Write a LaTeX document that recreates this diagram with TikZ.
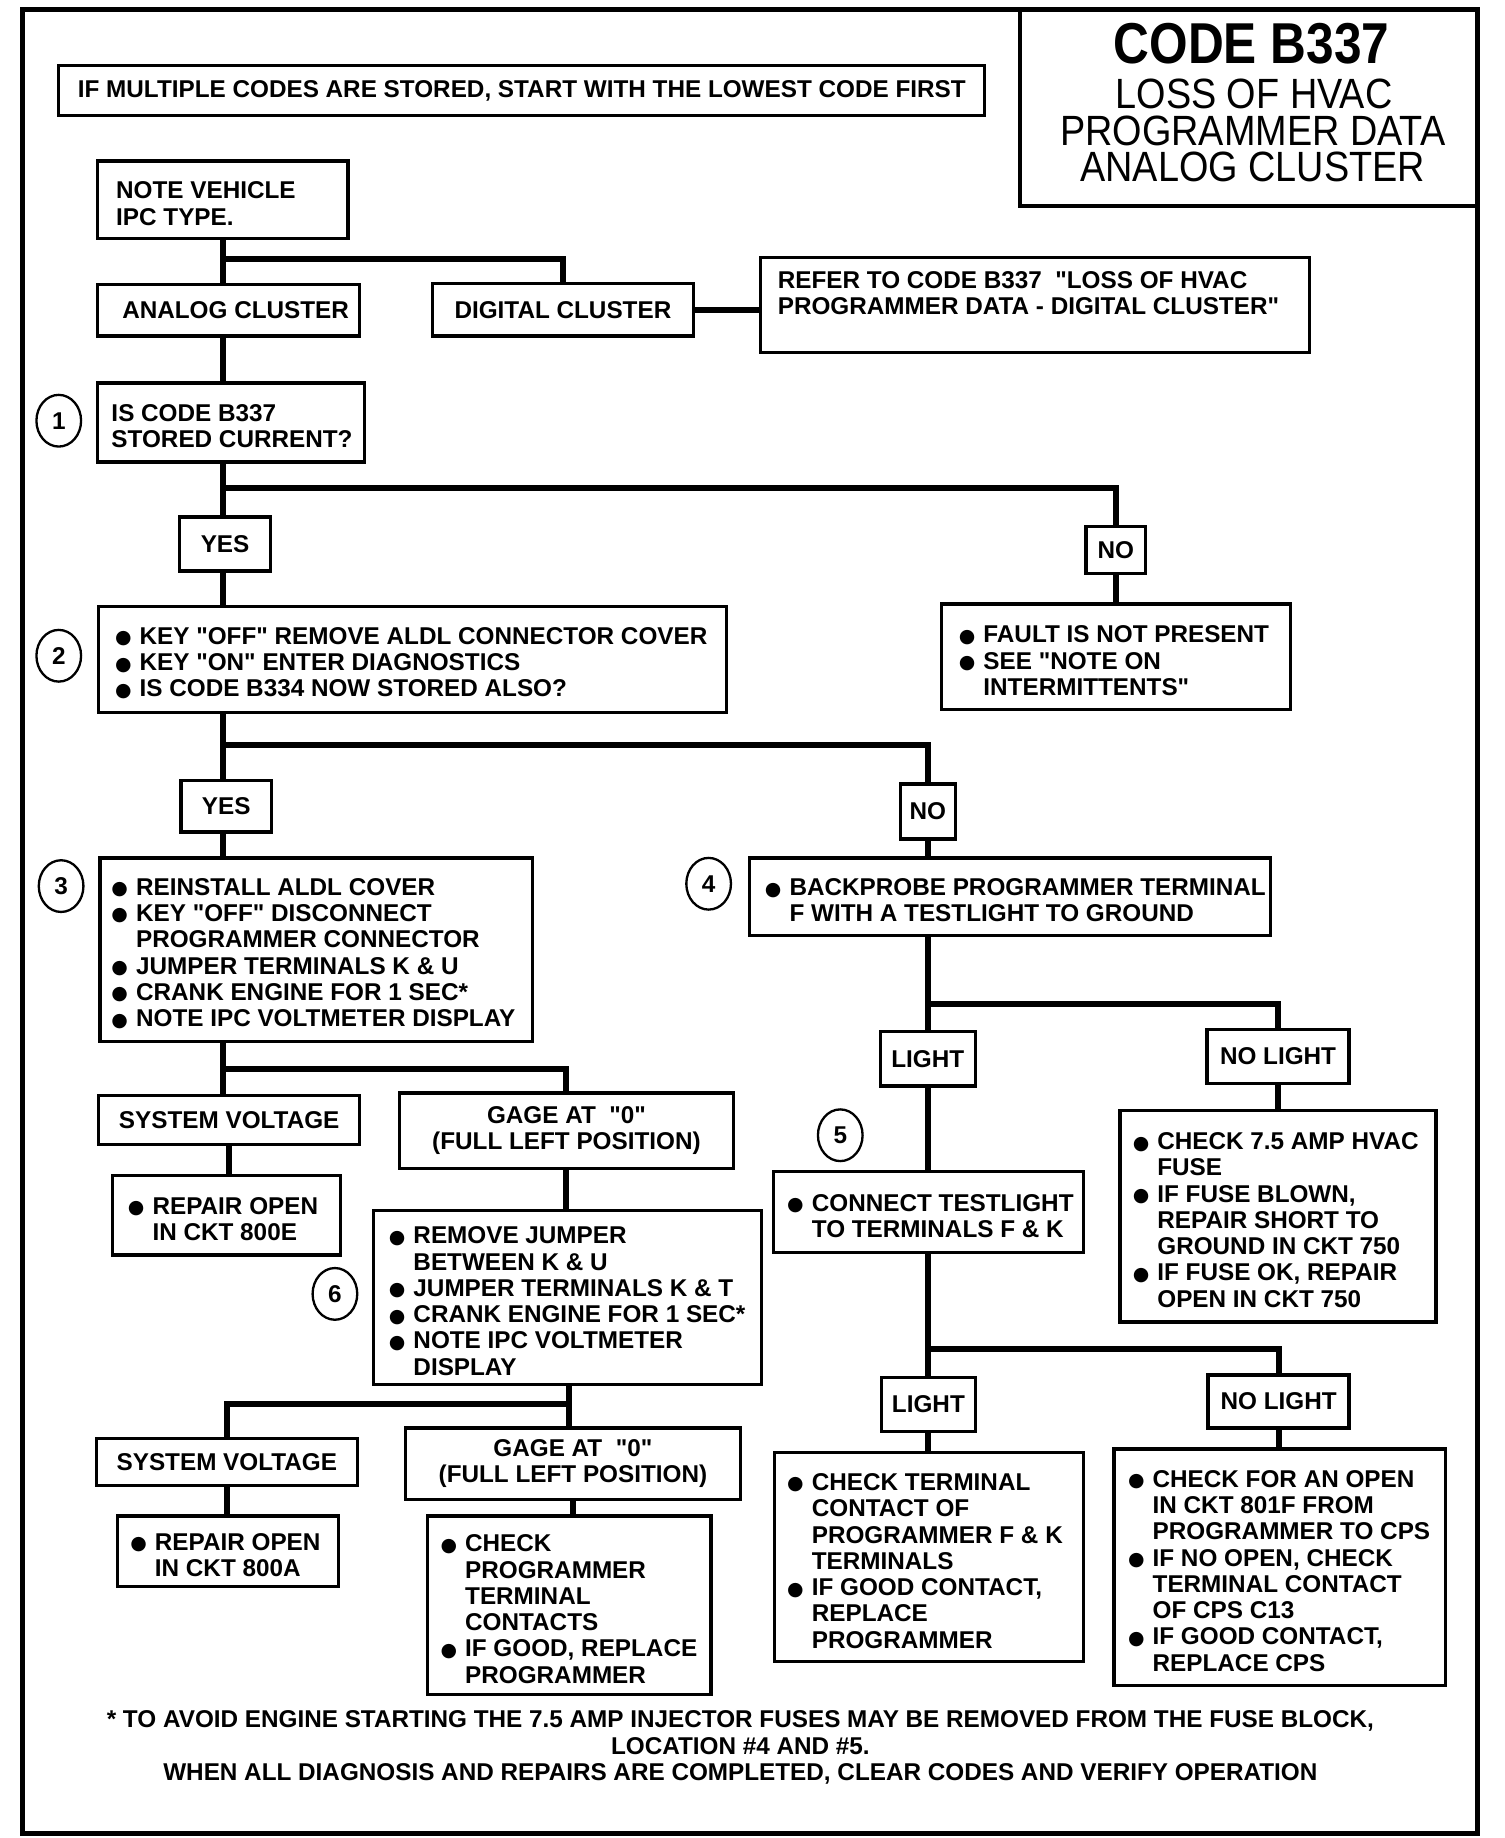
\documentclass[tikz,border=0pt]{standalone}
\usepackage{fontspec}
\usepackage{graphicx}
\setmainfont{Liberation Sans}
\newfontfamily\lib{Liberation Sans}
\newfontfamily\symf{DejaVu Sans}
\usetikzlibrary{calc,shapes.geometric}
\newcommand\bodyf{\lib\fontsize{14.7}{15.9}\selectfont\bfseries}
\newcommand\bul{\makebox[14.9pt][l]{\raisebox{0.3pt}{\scalebox{0.78}{\symf ●}}}}
\newcommand\ind{\hspace*{14.9pt}}
\newcommand\mkbox[6]{\node[box,#6,minimum width={(#4-#2)*0.25mm},minimum height={(#5-#3)*0.25mm}] (#1) at ({(#2+#4)/2},{(#3+#5)/2})}
\tikzset{
  box/.style={draw, line width=2pt, inner sep=0pt, align=center, font=\bodyf},
  conn/.style={line width=3.6pt, line join=miter},
  txt/.style={inner sep=0pt, align=left, font=\bodyf, anchor=west, yshift=-0.8mm},
  ttl/.style={inner sep=0pt, font=\lib\fontsize{21}{22}\selectfont},
  num/.style={ellipse, draw, line width=1.4pt, minimum width=9.5mm, minimum height=11mm, inner sep=0pt, font=\bodyf},
}
\begin{document}
\begin{tikzpicture}[x=0.25mm,y=-0.25mm]
\useasboundingbox (0,0) rectangle (1280,1564);
% outer frame
\draw[line width=2.8pt] (19,8) rectangle (1257,1560);
% title
\mkbox{titlebox}{868}{8}{1257}{175}{line width=2.4pt}{};
\node[inner sep=0pt, font=\lib\fontsize{34.9}{36}\selectfont\bfseries] (t1) at (1065,37) {\scalebox{0.86}[1]{CODE B337}};
\node[ttl] (t2) at (1067,80) {\scalebox{1.09}[1.22]{LOSS OF HVAC}};
\node[ttl] (t3) at (1066,111) {\scalebox{1.09}[1.22]{PROGRAMMER DATA}};
\node[ttl] (t4) at (1066,142) {\scalebox{1.09}[1.22]{ANALOG CLUSTER}};

% boxes
\mkbox{multi}{50}{56}{838}{98}{}{IF MULTIPLE CODES ARE STORED, START WITH THE LOWEST CODE FIRST};
\mkbox{note}{83}{137}{296}{203}{}{};
\node[txt] (notet) at ([xshift=4.25mm]note.west) {NOTE VEHICLE\\IPC TYPE.};
\mkbox{analog}{83}{242}{306}{286}{}{\hspace*{3mm}ANALOG CLUSTER};
\mkbox{digital}{368}{241}{590}{286}{}{DIGITAL CLUSTER};
\mkbox{refer}{647}{219}{1114}{300}{}{};
\node[txt, anchor=north west] (refert) at ([shift={(4mm,-2.4mm)}]refer.north west) {REFER TO CODE B337 \ "LOSS OF HVAC\\PROGRAMMER DATA - DIGITAL CLUSTER"};
\mkbox{q1}{83}{326}{310}{393}{}{};
\node[txt] (q1t) at ([xshift=3.25mm]q1.west) {IS CODE B337\\STORED CURRENT?};
\mkbox{yes1}{153}{440}{230}{486}{}{YES};
\mkbox{no1}{924}{448}{975}{488}{}{NO};
\mkbox{s2}{84}{516}{618}{606}{}{};
\node[txt] (s2t) at ([xshift=3.75mm]s2.west) {\bul KEY "OFF" REMOVE ALDL CONNECTOR COVER\\\bul KEY "ON" ENTER DIAGNOSTICS\\\bul IS CODE B334 NOW STORED ALSO?};
\mkbox{fault}{801}{514}{1098}{604}{}{};
\node[txt] (faultt) at ([xshift=4mm]fault.west) {\bul FAULT IS NOT PRESENT\\\bul SEE "NOTE ON\\\ind INTERMITTENTS"};
\mkbox{yes2}{154}{664}{231}{708}{}{YES};
\mkbox{no2}{766}{667}{813}{714}{}{NO};
\mkbox{s3}{85}{730}{453}{886}{}{};
\node[txt] (s3t) at ([xshift=2.75mm]s3.west) {\bul REINSTALL ALDL COVER\\\bul KEY "OFF" DISCONNECT\\\ind PROGRAMMER CONNECTOR\\\bul JUMPER TERMINALS K \& U\\\bul CRANK ENGINE FOR 1 SEC*\\\bul NOTE IPC VOLTMETER DISPLAY};
\mkbox{s4}{638}{730}{1081}{796}{}{};
\node[txt] (s4t) at ([xshift=3.5mm]s4.west) {\bul BACKPROBE PROGRAMMER TERMINAL\\\ind F WITH A TESTLIGHT TO GROUND};
\mkbox{sv1}{84}{932}{306}{974}{}{SYSTEM VOLTAGE};
\mkbox{gage1}{340}{930}{624}{994}{}{GAGE AT \ "0"\\(FULL LEFT POSITION)};
\mkbox{rep1}{96}{1000}{290}{1068}{}{};
\node[txt] (rep1t) at ([xshift=3.5mm]rep1.west) {\bul REPAIR OPEN\\\ind IN CKT 800E};
\mkbox{s6}{318}{1030}{648}{1178}{}{};
\node[txt] (s6t) at ([xshift=3.5mm]s6.west) {\bul REMOVE JUMPER\\\ind BETWEEN K \& U\\\bul JUMPER TERMINALS K \& T\\\bul CRANK ENGINE FOR 1 SEC*\\\bul NOTE IPC VOLTMETER\\\ind DISPLAY};
\mkbox{sv2}{82}{1224}{304}{1264}{}{SYSTEM VOLTAGE};
\mkbox{gage2}{345}{1215}{630}{1276}{}{GAGE AT \ "0"\\(FULL LEFT POSITION)};
\mkbox{rep2}{100}{1290}{288}{1350}{}{};
\node[txt] (rep2t) at ([xshift=3mm]rep2.west) {\bul REPAIR OPEN\\\ind IN CKT 800A};
\mkbox{chk}{364}{1290}{605}{1442}{}{};
\node[txt] (chkt) at ([xshift=3mm]chk.west) {\bul CHECK\\\ind PROGRAMMER\\\ind TERMINAL\\\ind CONTACTS\\\bul IF GOOD, REPLACE\\\ind PROGRAMMER};
\mkbox{light1}{749}{878}{830}{924}{}{LIGHT};
\mkbox{nolight1}{1027}{876}{1148}{922}{}{NO LIGHT};
\mkbox{s5}{658}{997}{922}{1066}{}{};
\node[txt] (s5t) at ([xshift=3.25mm]s5.west) {\bul CONNECT TESTLIGHT\\\ind TO TERMINALS F \& K};
\mkbox{fuse}{953}{945}{1222}{1125}{}{};
\node[txt] (fuset) at ([xshift=3mm]fuse.west) {\bul CHECK 7.5 AMP HVAC\\\ind FUSE\\\bul IF FUSE BLOWN,\\\ind REPAIR SHORT TO\\\ind GROUND IN CKT 750\\\bul IF FUSE OK, REPAIR\\\ind OPEN IN CKT 750};
\mkbox{light2}{750}{1172}{830}{1218}{}{LIGHT};
\mkbox{nolight2}{1028}{1170}{1148}{1215}{}{NO LIGHT};
\mkbox{lbox}{659}{1236}{922}{1414}{}{};
\node[txt] (lboxt) at ([xshift=3mm]lbox.west) {\bul CHECK TERMINAL\\\ind CONTACT OF\\\ind PROGRAMMER F \& K\\\ind TERMINALS\\\bul IF GOOD CONTACT,\\\ind REPLACE\\\ind PROGRAMMER};
\mkbox{nlbox}{948}{1233}{1230}{1434}{}{};
\node[txt] (nlboxt) at ([xshift=3.25mm]nlbox.west) {\bul CHECK FOR AN OPEN\\\ind IN CKT 801F FROM\\\ind PROGRAMMER TO CPS\\\bul IF NO OPEN, CHECK\\\ind TERMINAL CONTACT\\\ind OF CPS C13\\\bul IF GOOD CONTACT,\\\ind REPLACE CPS};

% step numbers
\node[num] (c1) at (50,358) {1};
\node[num] (c2) at (50,558) {2};
\node[num] (c3) at (52,754) {3};
\node[num] (c4) at (603,752) {4};
\node[num] (c5) at (715,966) {5};
\node[num] (c6) at (285,1101) {6};

% footer
\node[align=center, font=\bodyf, inner sep=0pt] (foot) at (630,1487) {* TO AVOID ENGINE STARTING THE 7.5 AMP INJECTOR FUSES MAY BE REMOVED FROM THE FUSE BLOCK,\\LOCATION \#4 AND \#5.\\WHEN ALL DIAGNOSIS AND REPAIRS ARE COMPLETED, CLEAR CODES AND VERIFY OPERATION};

% connectors
\coordinate (L) at (190,0);
\coordinate (R) at (790,0);
\coordinate (G) at (484,0);
\coordinate (j1) at (190,220);
\coordinate (j2) at (190,415);
\coordinate (j3) at (190,634);
\coordinate (j4) at (190,910);
\coordinate (j5) at (484,1195);
\coordinate (j6) at (790,854);
\coordinate (j7) at (790,1148);
\draw[conn] (L |- note.south) -- (L |- analog.north);
\draw[conn] (j1) -| (digital.north);
\draw[conn] (digital.east) -- (digital.east -| refer.west);
\draw[conn] (L |- analog.south) -- (L |- q1.north);
\draw[conn] (L |- q1.south) -- (L |- yes1.north);
\draw[conn] (j2) -| (no1.north);
\draw[conn] (L |- yes1.south) -- (L |- s2.north);
\draw[conn] (no1.south) -- (no1.south |- fault.north);
\draw[conn] (L |- s2.south) -- (L |- yes2.north);
\draw[conn] (j3) -| (no2.north);
\draw[conn] (L |- yes2.south) -- (L |- s3.north);
\draw[conn] (no2.south) -- (no2.south |- s4.north);
\draw[conn] (L |- s3.south) -- (L |- sv1.north);
\draw[conn] (j4) -| (gage1.north);
\draw[conn] (sv1.south) -- (sv1.south |- rep1.north);
\draw[conn] (gage1.south) -- (gage1.south |- s6.north);
\draw[conn] (G |- s6.south) -- (G |- gage2.north);
\draw[conn] (j5) -| (sv2.north);
\draw[conn] (gage2.south) -- (gage2.south |- chk.north);
\draw[conn] (sv2.south) -- (sv2.south |- rep2.north);
\draw[conn] (R |- s4.south) -- (R |- light1.north);
\draw[conn] (j6) -| (nolight1.north);
\draw[conn] (R |- light1.south) -- (R |- s5.north);
\draw[conn] (nolight1.south) -- (nolight1.south |- fuse.north);
\draw[conn] (R |- s5.south) -- (R |- light2.north);
\draw[conn] (j7) -| (nolight2.north);
\draw[conn] (R |- light2.south) -- (R |- lbox.north);
\draw[conn] (nolight2.south) -- (nolight2.south |- nlbox.north);
\end{tikzpicture}
\end{document}
